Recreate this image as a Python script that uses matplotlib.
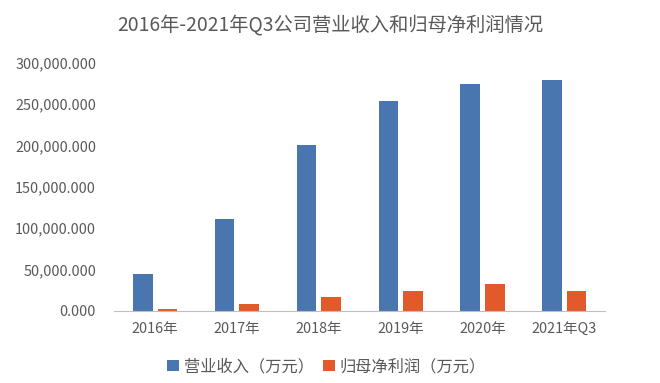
import numpy as np
import matplotlib
matplotlib.use('Agg')
import matplotlib.pyplot as plt
from matplotlib.ticker import FuncFormatter

plt.rcParams['font.family'] = ['Noto Sans CJK SC', 'DejaVu Sans']

categories = ['2016年', '2017年', '2018年', '2019年', '2020年', '2021年Q3']
revenue = [44800, 111400, 201000, 254000, 274500, 279500]
net_profit = [2400, 8100, 16600, 24600, 33000, 24600]

blue = '#4A76B0'
orange = '#E2592A'
text_color = '#595959'

fig = plt.figure(figsize=(6.6, 3.83), dpi=100)
ax = fig.add_axes([0.173, 0.188, 0.744, 0.648])

x = np.arange(len(categories))
w = 0.24
ax.bar(x - 0.15, revenue, w, color=blue, label='营业收入（万元）')
ax.bar(x + 0.15, net_profit, w, color=orange, label='归母净利润（万元）')

ax.set_xlim(-0.5, len(categories) - 0.5)
ax.set_ylim(0, 300000)
ax.set_yticks(np.arange(0, 300001, 50000))
ax.yaxis.set_major_formatter(FuncFormatter(lambda v, p: f'{v:,.3f}'))
ax.set_xticks(x)
ax.set_xticklabels(categories)

for s in ['top', 'right', 'left']:
    ax.spines[s].set_visible(False)
ax.spines['bottom'].set_color('#BFBFBF')
ax.tick_params(axis='both', length=0, labelsize=10.4, colors=text_color)
ax.tick_params(axis='y', pad=13)
ax.tick_params(axis='x', pad=8)

fig.text(0.5, 0.935, '2016年-2021年Q3公司营业收入和归母净利润情况',
         ha='center', va='center', fontsize=13.9, color=text_color)

fig.legend(loc='center', bbox_to_anchor=(0.495, 0.042), ncol=2, frameon=False,
           fontsize=11.7, handlelength=0.7, handleheight=0.7, handletextpad=0.3,
           columnspacing=0.6, labelcolor=text_color)

fig.savefig('out.png', dpi=100, facecolor='white')
